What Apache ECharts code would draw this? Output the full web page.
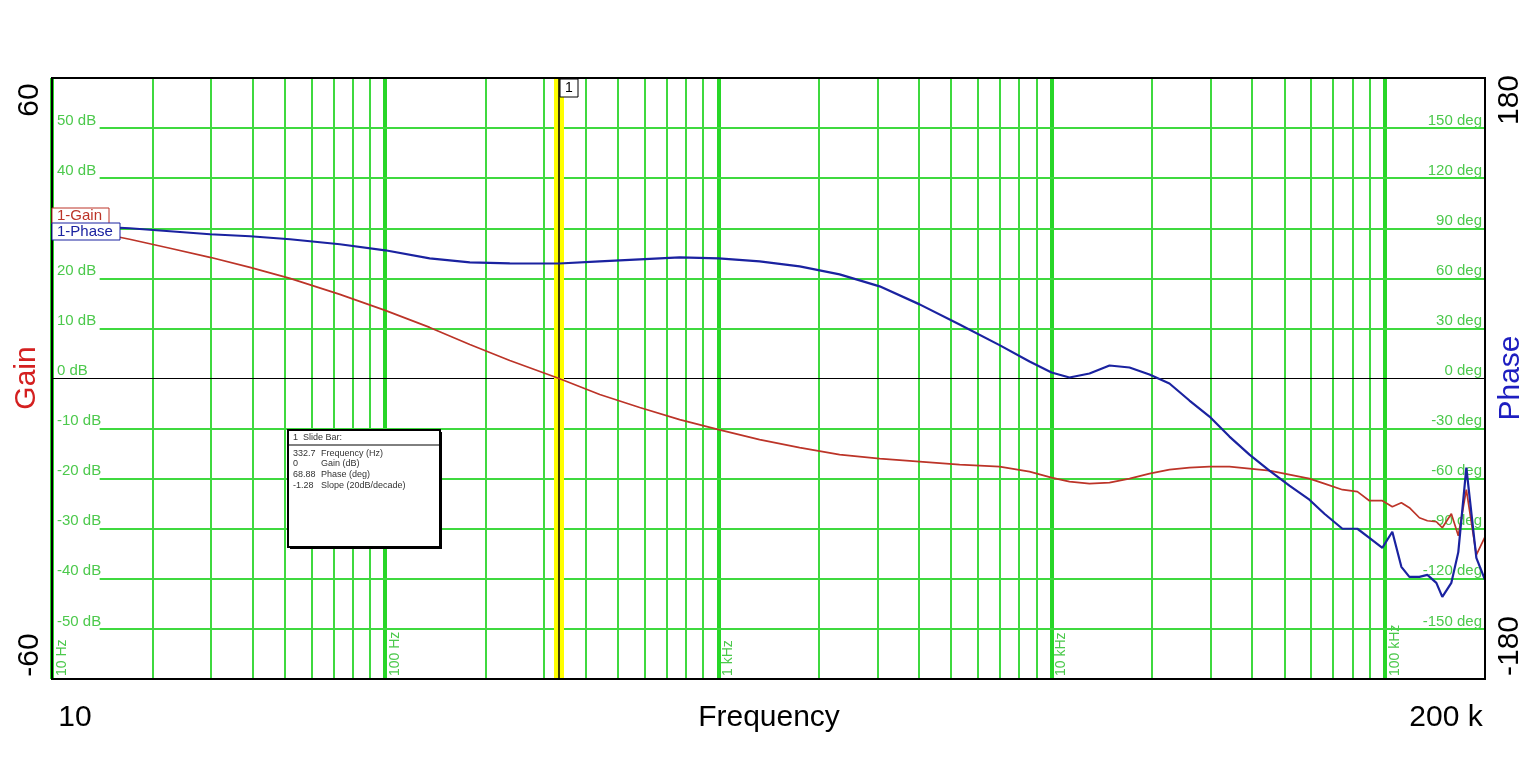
<!DOCTYPE html>
<html>
<head>
<meta charset="utf-8">
<script src="https://cdn.jsdelivr.net/npm/echarts@6/dist/echarts.min.js"></script>
<style>html,body{margin:0;padding:0;background:#fff;}#c{width:1538px;height:758px;}</style>
</head>
<body>
<div id="c"></div>
<script>
// ---- data ----
const freq = [10, 13.0, 17.1, 22.6, 29.8, 39.3, 51.8, 73.1, 100, 136, 179.5, 236.6, 332.7, 440.6, 580.8, 765.6, 1002, 1330, 1754, 2312, 3048, 4018, 5297, 6982, 8590, 10000, 11320, 13000, 14930, 17140, 19680, 22590, 25940, 29790, 34200, 39270, 45080, 51760, 59430, 65920, 74660, 82790, 89950, 98400, 105400, 112200, 118600, 127100, 134300, 142900, 148900, 158500, 166300, 175800, 188400, 200000];
const gainDb = [30.6, 29.4, 27.8, 26, 24.2, 22.2, 20, 16.8, 13.6, 10.2, 6.8, 3.6, 0, -3.2, -5.8, -8.2, -10.2, -12.2, -13.8, -15.2, -16, -16.6, -17.2, -17.6, -18.6, -19.8, -20.6, -21, -20.8, -20, -19, -18.2, -17.8, -17.6, -17.6, -18, -18.4, -19.2, -20, -21, -22.2, -22.6, -24.4, -24.4, -25.6, -24.8, -25.8, -27.8, -28.4, -28.6, -29.8, -27, -31.4, -22.2, -35.2, -31.6];
const phaseDeg = [91.8, 91.2, 90, 88.2, 86.4, 85.2, 83.4, 80.4, 76.8, 72, 69.6, 69, 68.88, 70.2, 71.4, 72.6, 72, 70.2, 67.2, 62.4, 55.2, 44.4, 32.4, 20, 10.2, 3.6, 0.6, 3, 7.8, 6.6, 2.4, -3, -13.2, -22.8, -34.8, -45.6, -55.2, -64.2, -72.6, -81, -90, -90, -95.4, -101.4, -91.8, -112.8, -118.8, -118.8, -117.6, -122.4, -130.8, -122.4, -104, -53.4, -107.4, -120.6];
const decadeFreqs = [10, 100, 1000, 10000, 100000];
const decadeLabels = ['10 Hz', '100 Hz', '1 kHz', '10 kHz', '100 kHz'];
const minorFreqs = [20,30,40,50,60,70,80,90,200,300,400,500,600,700,800,900,2000,3000,4000,5000,6000,7000,8000,9000,20000,30000,40000,50000,60000,70000,80000,90000];
const gainTicks = [-50,-40,-30,-20,-10,0,10,20,30,40,50];
const phaseTicks = [-150,-120,-90,-60,-30,0,30,60,90,120,150];
const slideFreq = 332.7;
const slideRows = [['332.7','Frequency (Hz)'],['0','Gain (dB)'],['68.88','Phase (deg)'],['-1.28','Slope (20dB/decade)']];
const hLineStartFreq = 13.9;   // grid lines begin just right of the inner dB labels
const xMin = 10, xMax = 200000;

const GREEN = '#3fd93f';
const GTEXT = '#4cc94c';
const RED = '#bc3428';
const BLUE = '#1a22a0';
const FONT = 'Liberation Sans, Arial, sans-serif';

const chart = echarts.init(document.getElementById('c'));

const vLines = [];
minorFreqs.forEach(f => vLines.push({xAxis: f, lineStyle: {width: 2, color: GREEN, type: 'solid'}, label: {show: false}}));
decadeFreqs.forEach((f, i) => vLines.push({
  xAxis: f, lineStyle: {width: 4, color: '#28d628', type: 'solid'},
  label: {show: true, formatter: decadeLabels[i], position: 'insideStartBottom', color: GTEXT, fontSize: 14, fontFamily: FONT, distance: 3}
}));
const hLines = gainTicks.filter(v => v !== 0).map(v => [
  {coord: [hLineStartFreq, v], lineStyle: {width: 2, color: GREEN, type: 'solid'}},
  {coord: [xMax, v]}
]);

const seriesData = (ys) => freq.map((f, i) => [f, ys[i]]);

const option = {
  animation: false,
  backgroundColor: '#fff',
  grid: {left: 52, top: 78, right: 53, bottom: 79, show: false},
  xAxis: {
    type: 'log', logBase: 10, min: xMin, max: xMax,
    axisLine: {show: false}, axisTick: {show: false}, axisLabel: {show: false}, splitLine: {show: false}
  },
  yAxis: [
    {
      type: 'value', min: -60, max: 60, interval: 10, position: 'left',
      axisLine: {show: false}, axisTick: {show: false},
      axisLabel: {inside: true, margin: 5, verticalAlign: 'bottom', color: GTEXT, fontSize: 15, fontFamily: FONT,
        formatter: v => gainTicks.indexOf(v) >= 0 ? v + ' dB' : ''},
      splitLine: {show: false}
    },
    {
      type: 'value', min: -180, max: 180, interval: 30, position: 'right',
      axisLine: {show: false}, axisTick: {show: false},
      axisLabel: {inside: true, margin: 3, verticalAlign: 'bottom', color: GTEXT, fontSize: 15, fontFamily: FONT,
        formatter: v => phaseTicks.indexOf(v) >= 0 ? v + ' deg' : ''},
      splitLine: {show: false}
    }
  ],
  series: [
    {
      name: 'grid', type: 'line', data: [[10, 0]], symbol: 'none', lineStyle: {width: 0}, z: 1, silent: true,
      markLine: {silent: true, symbol: 'none', animation: false, label: {show: false}, data: vLines.concat(hLines)}
    },
    {
      name: 'zero', type: 'line', data: [[10, 0]], symbol: 'none', lineStyle: {width: 0}, z: 2, silent: true,
      markLine: {silent: true, symbol: 'none', animation: false, label: {show: false},
        data: [{yAxis: 0, lineStyle: {color: '#000', width: 1.2, type: 'solid'}}]}
    },
    {
      name: 'slide', type: 'line', data: [[10, 0]], symbol: 'none', lineStyle: {width: 0}, z: 3, silent: true,
      markLine: {silent: true, symbol: 'none', animation: false, label: {show: false},
        data: [
          {xAxis: slideFreq, lineStyle: {color: '#ffff00', width: 10, type: 'solid'}},
          {xAxis: slideFreq, lineStyle: {color: '#000', width: 1.5, type: 'solid'}}
        ]}
    },
    {
      name: '1-Gain', type: 'line', yAxisIndex: 0, data: seriesData(gainDb), symbol: 'none', z: 5,
      lineStyle: {color: RED, width: 1.7}
    },
    {
      name: '1-Phase', type: 'line', yAxisIndex: 1, data: seriesData(phaseDeg), symbol: 'none', z: 6,
      lineStyle: {color: BLUE, width: 2.2}
    }
  ],
  graphic: [
    // plot frame
    {type: 'rect', z: 15, shape: {x: 52, y: 78, width: 1433, height: 601}, style: {fill: 'none', stroke: '#000', lineWidth: 2}},
    {type: 'text', x: 30, y: 100, rotation: Math.PI / 2, style: {text: '60', font: '30px ' + FONT, fill: '#000', align: 'center', verticalAlign: 'middle'}},
    {type: 'text', x: 30, y: 655, rotation: Math.PI / 2, style: {text: '-60', font: '30px ' + FONT, fill: '#000', align: 'center', verticalAlign: 'middle'}},
    {type: 'text', x: 1510, y: 100, rotation: Math.PI / 2, style: {text: '180', font: '30px ' + FONT, fill: '#000', align: 'center', verticalAlign: 'middle'}},
    {type: 'text', x: 1510, y: 646, rotation: Math.PI / 2, style: {text: '-180', font: '30px ' + FONT, fill: '#000', align: 'center', verticalAlign: 'middle'}},
    {type: 'text', x: 27, y: 378, rotation: Math.PI / 2, style: {text: 'Gain', font: '30px ' + FONT, fill: '#d42020', align: 'center', verticalAlign: 'middle'}},
    {type: 'text', x: 1511, y: 378, rotation: Math.PI / 2, style: {text: 'Phase', font: '30px ' + FONT, fill: '#1e1ec0', align: 'center', verticalAlign: 'middle'}},
    {type: 'text', x: 75, y: 718, style: {text: '10', font: '30px ' + FONT, fill: '#000', align: 'center', verticalAlign: 'middle'}},
    {type: 'text', x: 769, y: 718, style: {text: 'Frequency', font: '30px ' + FONT, fill: '#000', align: 'center', verticalAlign: 'middle'}},
    {type: 'text', x: 1446, y: 718, style: {text: '200 k', font: '30px ' + FONT, fill: '#000', align: 'center', verticalAlign: 'middle'}},
    // slide bar marker box
    {type: 'rect', z: 20, shape: {x: 560, y: 79, width: 18, height: 18}, style: {fill: '#fff', stroke: '#000', lineWidth: 1}},
    {type: 'text', z: 21, x: 569, y: 88.5, style: {text: '1', font: '14px ' + FONT, fill: '#000', align: 'center', verticalAlign: 'middle'}},
    // legend tags
    {type: 'rect', z: 20, shape: {x: 52, y: 208, width: 57, height: 16}, style: {fill: '#fff', stroke: RED, lineWidth: 1}},
    {type: 'text', z: 21, x: 57, y: 216, style: {text: '1-Gain', font: '15px ' + FONT, fill: RED, verticalAlign: 'middle'}},
    {type: 'rect', z: 22, shape: {x: 52, y: 223, width: 68, height: 17}, style: {fill: '#fff', stroke: BLUE, lineWidth: 1}},
    {type: 'text', z: 23, x: 57, y: 232, style: {text: '1-Phase', font: '15px ' + FONT, fill: BLUE, verticalAlign: 'middle'}},
    // slide bar info box
    {type: 'rect', z: 30, shape: {x: 288, y: 430, width: 152, height: 117}, style: {fill: '#fff', stroke: '#000', lineWidth: 2}},
    {type: 'rect', z: 31, shape: {x: 439, y: 432, width: 3, height: 117}, style: {fill: '#000'}},
    {type: 'rect', z: 31, shape: {x: 290, y: 546, width: 152, height: 3}, style: {fill: '#000'}},
    {type: 'line', z: 31, shape: {x1: 288, y1: 445, x2: 440, y2: 445}, style: {stroke: '#000', lineWidth: 1}},
    {type: 'text', z: 32, x: 293, y: 437.5, style: {text: '1  Slide Bar:', font: '9px ' + FONT, fill: '#333', verticalAlign: 'middle'}}
  ].concat(slideRows.flatMap((r, i) => {
    const ys = [454, 464, 475, 486];
    return [
      {type: 'text', z: 32, x: 293, y: ys[i], style: {text: r[0], font: '9px ' + FONT, fill: '#333', verticalAlign: 'middle'}},
      {type: 'text', z: 32, x: 321, y: ys[i], style: {text: r[1], font: '9px ' + FONT, fill: '#333', verticalAlign: 'middle'}}
    ];
  }))
};
chart.setOption(option);
</script>
</body>
</html>
